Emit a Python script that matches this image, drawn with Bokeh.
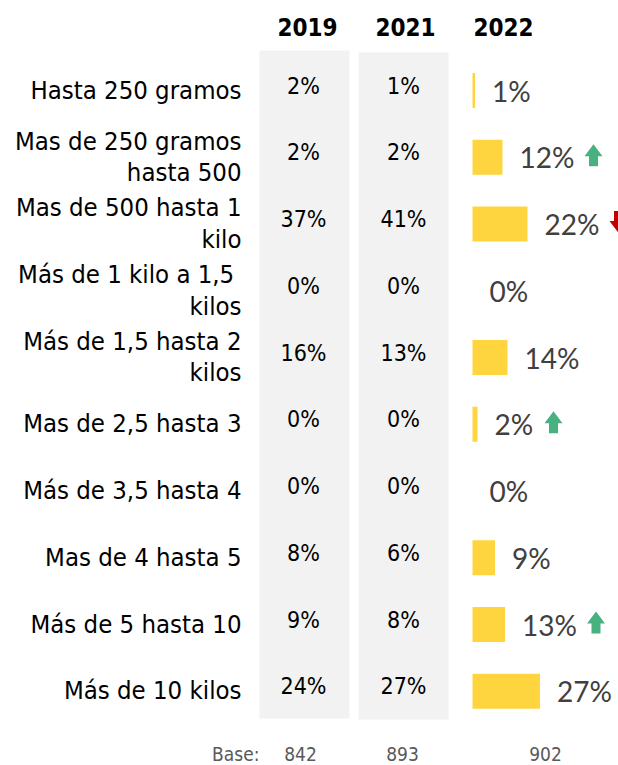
from bokeh.plotting import figure
from bokeh.models import Range1d, ColumnDataSource
from bokeh.core.properties import value
from bokeh.embed import file_html
from bokeh.resources import INLINE

# ---------------- data ----------------
categories = [
    "Hasta 250 gramos",
    "Mas de 250 gramos\nhasta 500",
    "Mas de 500 hasta 1\nkilo",
    "Más de 1 kilo  a 1,5\nkilos",
    "Más de 1,5 hasta 2\nkilos",
    "Mas de 2,5 hasta 3",
    "Más de 3,5 hasta 4",
    "Mas de 4 hasta 5",
    "Más de 5 hasta 10",
    "Más de 10 kilos",
]
years = ["2019", "2021", "2022"]
v2019 = [2, 2, 37, 0, 16, 0, 0, 8, 9, 24]
v2021 = [1, 2, 41, 0, 13, 0, 0, 6, 8, 27]
v2022 = [1, 12, 22, 0, 14, 2, 0, 9, 13, 27]
# trend arrows vs previous wave: +1 up, -1 down, 0 none
trend = [0, 1, -1, 0, 0, 1, 0, 0, 1, 0]
base_label = "Base:"
bases = [842, 893, 902]

# ---------------- layout constants ----------------
W, H = 618, 765
PX_PER_PCT = 2.5
PX_PER_ROW = 66.75
ROW0_Y = 90          # pixel y of first row centre
BAR0_X = 472         # pixel x of 2022 bar origin

rows = list(range(len(categories)))

p = figure(width=W, height=H, output_backend="svg", toolbar_location=None,
           min_border=0, outline_line_color=None,
           x_range=Range1d(-BAR0_X / PX_PER_PCT, (W - BAR0_X) / PX_PER_PCT),
           y_range=Range1d((H - ROW0_Y) / PX_PER_ROW, -ROW0_Y / PX_PER_ROW))
p.extra_x_ranges = {"px": Range1d(0, W)}
p.extra_y_ranges = {"py": Range1d(H, 0)}
p.xaxis.visible = False
p.yaxis.visible = False
p.grid.visible = False
p.background_fill_color = "white"
p.border_fill_color = "white"

LABEL_FONT = value("DejaVu Sans Condensed")

# grey background columns for 2019 / 2021
p.quad(left=[259, 358], right=[349, 448], top=[50, 52], bottom=[718, 719],
       fill_color="#f2f2f2", line_color=None,
       x_range_name="px", y_range_name="py")

# column headers
p.text(x=[307, 405, 503], y=[26, 26, 26], text=years,
       text_font=LABEL_FONT, text_font_style="bold", text_font_size="24px",
       text_color="#000000", text_align="center", text_baseline="middle",
       x_range_name="px", y_range_name="py")

# row labels
p.text(x=[241] * len(rows), y=rows, text=categories,
       text_font=LABEL_FONT, text_font_size="25.5px", text_color="#000000",
       text_align="right", text_baseline="middle", text_line_height=1.05,
       y_offset=-1, x_range_name="px")

# 2019 / 2021 value columns
for xc, vals in ((303, v2019), (403, v2021)):
    p.text(x=[xc] * len(rows), y=rows, text=[f"{v}%" for v in vals],
           text_font=LABEL_FONT, text_font_size="23px", text_color="#000000",
           text_align="center", text_baseline="middle", y_offset=-5,
           x_range_name="px")

# 2022 bars
src = ColumnDataSource(dict(y=rows, right=v2022, lab=[f"{v}%" for v in v2022]))
p.hbar(y="y", left=0, right="right", height=35 / PX_PER_ROW, source=src,
       fill_color="#FFD53F", line_color=None)
p.text(x="right", y="y", text="lab", source=src, x_offset=17, y_offset=0,
       text_font=value("Lato"), text_font_size="28px", text_color="#404040",
       text_align="left", text_baseline="middle")

# trend arrows (placed after the 2022 label)
def label_width_px(s):
    return sum(23 if ch == "%" else 15 for ch in s)

xs, ys, cols = [], [], []
for i, (v, t) in enumerate(zip(v2022, trend)):
    if t == 0:
        continue
    left_px = v * PX_PER_PCT + 17 + label_width_px(f"{v}%") + 12
    cx = (left_px + 9) / PX_PER_PCT
    hw, sw = 9 / PX_PER_PCT, 4.5 / PX_PER_PCT
    yc = i - 2 / PX_PER_ROW
    ytip = yc - t * 11 / PX_PER_ROW
    ybase = yc + t * 1 / PX_PER_ROW
    yend = yc + t * 11 / PX_PER_ROW
    xs.append([cx, cx + hw, cx + sw, cx + sw, cx - sw, cx - sw, cx - hw])
    ys.append([ytip, ybase, ybase, yend, yend, ybase, ybase])
    cols.append("#47B27F" if t > 0 else "#C00000")
p.patches(xs=xs, ys=ys, fill_color=cols, line_color=None)

# base row
p.text(x=[259], y=[753], text=[base_label], text_font=LABEL_FONT,
       text_font_size="19px", text_color="#595959", text_align="right",
       text_baseline="middle", x_range_name="px", y_range_name="py")
p.text(x=[300, 402, 545], y=[753] * 3, text=[str(b) for b in bases],
       text_font=LABEL_FONT, text_font_size="19px", text_color="#595959",
       text_align="center", text_baseline="middle",
       x_range_name="px", y_range_name="py")

open("out.html", "w").write(file_html(p, INLINE))
